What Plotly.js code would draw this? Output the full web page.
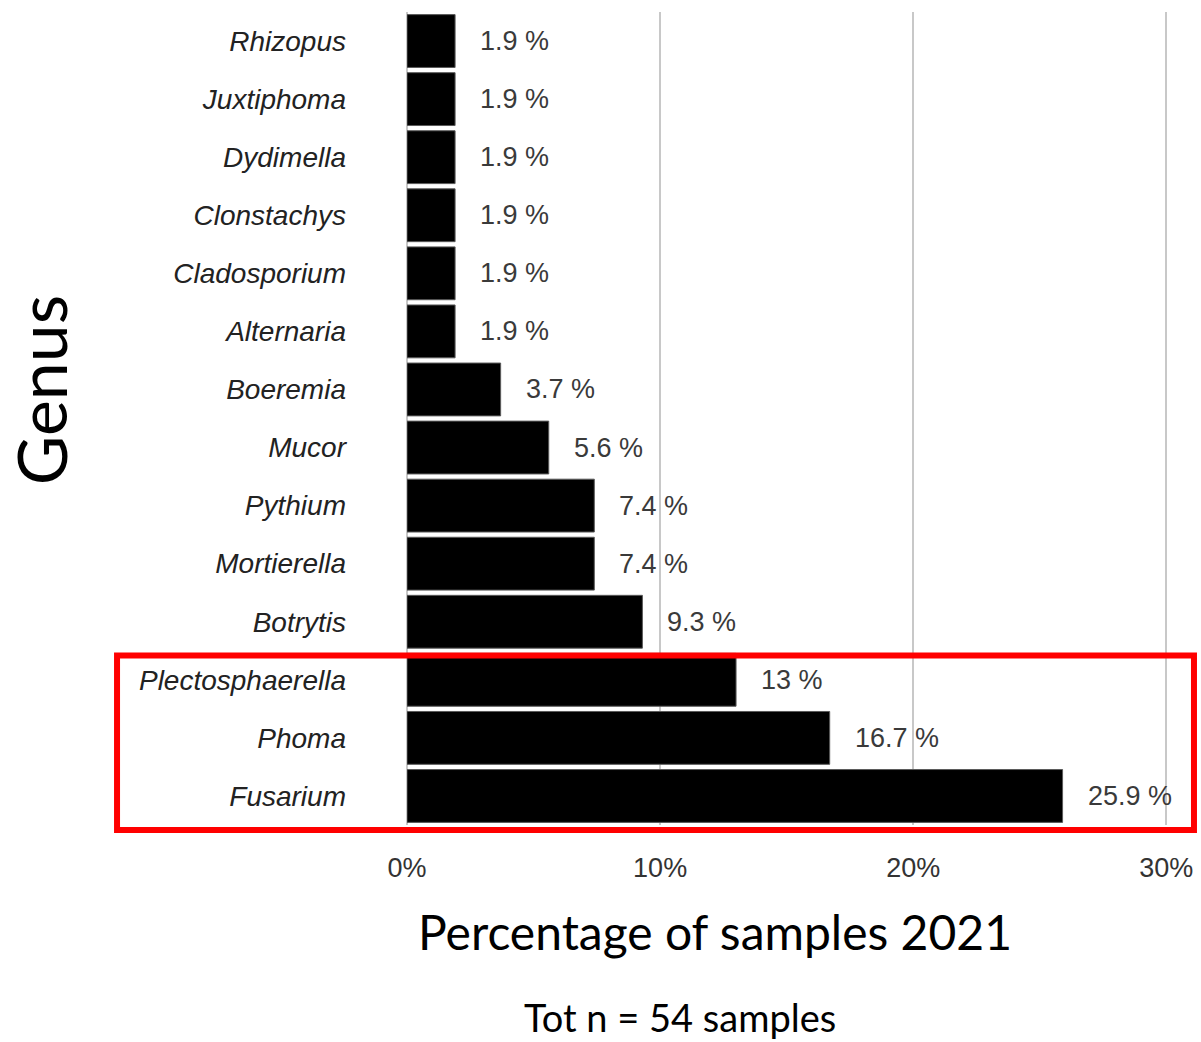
<!DOCTYPE html>
<html>
<head>
<meta charset="utf-8">
<script src="https://cdn.plot.ly/plotly-3.0.1.min.js"></script>
<style>html,body{margin:0;padding:0;background:#fff;}#chart{width:1201px;height:1042px;}</style>
</head>
<body>
<div id="chart"></div>
<script>
// Data (bottom to top)
const genera = ["Fusarium","Phoma","Plectosphaerella","Botrytis","Mortierella","Pythium","Mucor","Boeremia","Alternaria","Cladosporium","Clonstachys","Dydimella","Juxtiphoma","Rhizopus"];
const percentages = [25.9,16.7,13,9.3,7.4,7.4,5.6,3.7,1.9,1.9,1.9,1.9,1.9,1.9];
const valueLabels = ["25.9 %","16.7 %","13 %","9.3 %","7.4 %","7.4 %","5.6 %","3.7 %","1.9 %","1.9 %","1.9 %","1.9 %","1.9 %","1.9 %"];
const xTickVals = [0,10,20,30];
const xTickText = ["0%","10%","20%","30%"];

const SANS = "Liberation Sans";

const trace = {
  type: "bar",
  orientation: "h",
  x: percentages,
  y: genera,
  marker: {color: "#000000", line: {color: "#5a5a5a", width: 1}},
  hoverinfo: "skip"
};

const valueAnnotations = genera.map((g, i) => ({
  x: percentages[i], y: g, xref: "x", yref: "y",
  text: valueLabels[i], showarrow: false,
  xanchor: "left", yanchor: "middle", xshift: 23,
  font: {family: SANS, size: 27, color: "#3a3a3a"}
}));

const layout = {
  width: 1201, height: 1042,
  margin: {l: 407, r: 22, t: 12, b: 217},
  paper_bgcolor: "#ffffff", plot_bgcolor: "#ffffff",
  showlegend: false,
  bargap: 0.09,
  xaxis: {
    range: [0, 30.5],
    tickvals: xTickVals, ticktext: xTickText,
    showgrid: true, gridcolor: "#c8c8c8", gridwidth: 2,
    zeroline: true, zerolinecolor: "#c8c8c8", zerolinewidth: 2,
    showline: false, ticks: "",
    ticklabelstandoff: 24,
    tickfont: {family: SANS, size: 27, color: "#333333"}
  },
  yaxis: {
    type: "category",
    categoryorder: "array", categoryarray: genera,
    range: [-0.5, 13.5],
    showgrid: false, zeroline: false, showline: false, ticks: "",
    ticklabelstandoff: 60,
    tickfont: {family: SANS, size: 28, color: "#222222", style: "italic"}
  },
  annotations: valueAnnotations.concat([
    {text: "Percentage of samples 2021", xref: "paper", yref: "paper", x: 0.399, y: -0.131,
     xanchor: "center", yanchor: "middle", showarrow: false,
     font: {family: "Lato", size: 48, color: "#000000"}},
    {text: "Tot n = 54 samples", xref: "paper", yref: "paper", x: 0.354, y: -0.236,
     xanchor: "center", yanchor: "middle", showarrow: false,
     font: {family: "Lato", size: 38, color: "#000000"}},
    {text: "Genus", xref: "paper", yref: "paper", x: -0.475, y: 0.535,
     xanchor: "center", yanchor: "middle", showarrow: false, textangle: -90,
     font: {family: "Lato", size: 68, color: "#000000"}}
  ]),
  shapes: [{
    type: "rect", xref: "paper", yref: "paper",
    x0: -0.3756, x1: 1.0194, y0: -0.0062, y1: 0.2085,
    line: {color: "#ff0000", width: 6}, fillcolor: "rgba(0,0,0,0)", layer: "above"
  }]
};

Plotly.newPlot("chart", [trace], layout, {displayModeBar: false, staticPlot: true});
</script>
</body>
</html>
